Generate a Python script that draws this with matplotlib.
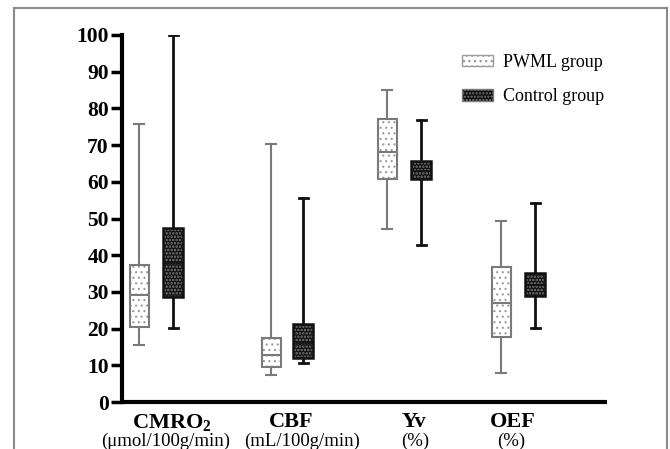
import matplotlib
matplotlib.use("Agg")
import matplotlib.pyplot as plt
from matplotlib.patches import Patch, PathPatch
from matplotlib.lines import Line2D

plt.rcParams['font.family'] = ['Liberation Serif', 'DejaVu Serif']
plt.rcParams['mathtext.fontset'] = 'custom'
plt.rcParams['mathtext.bf'] = 'Liberation Serif:bold'
plt.rcParams['mathtext.rm'] = 'Liberation Serif'
plt.rcParams['hatch.linewidth'] = 0.8

# ---- data ----
measures = [r'$\mathbf{CMRO_2}$', 'CBF', 'Yv', 'OEF']
units = ['(μmol/100g/min)', '(mL/100g/min)', '(%)', '(%)']
groups = ['PWML group', 'Control group']

# whislo, q1, median, q3, whishi
pwml_low = [15.5, 7.4, 47.1, 8.0]
pwml_q1 = [20.5, 9.6, 60.8, 17.8]
pwml_med = [29.2, 12.8, 68.2, 27.1]
pwml_q3 = [37.3, 17.4, 77.1, 36.9]
pwml_high = [75.8, 70.3, 85.0, 49.4]

ctrl_low = [20.1, 10.5, 42.7, 20.1]
ctrl_q1 = [28.5, 11.9, 60.8, 28.9]
ctrl_med = [38.0, 16.0, 63.0, 32.0]
ctrl_q3 = [47.3, 21.2, 65.8, 35.2]
ctrl_high = [100.0, 55.7, 76.8, 54.1]

yticks = [0, 10, 20, 30, 40, 50, 60, 70, 80, 90, 100]

# ---- layout ----
pwml_pos = [139, 271, 387, 501]
ctrl_pos = [173, 303, 421, 535]
name_pos = [172, 291, 414, 513]
unit_pos = [166, 302, 415, 511]

fig = plt.figure(figsize=(6.7, 4.49), dpi=100)
ax = fig.add_axes([122 / 670, 1 - 402 / 449, (607 - 122) / 670, (402 - 35) / 449])


def stats(lo, q1, med, q3, hi):
    return [dict(whislo=a, q1=b, med=c, q3=d, whishi=e, fliers=[])
            for a, b, c, d, e in zip(lo, q1, med, q3, hi)]


gray = '#7a7a7a'
pw_hatch = '...'
ct_hatch = '.....'
ct_face = '#101010'
ct_dot = '#7a7a7a'

bp1 = ax.bxp(stats(pwml_low, pwml_q1, pwml_med, pwml_q3, pwml_high),
             positions=pwml_pos, widths=19, patch_artist=True, showfliers=False,
             capwidths=10,
             boxprops=dict(facecolor='white', edgecolor='#9a9a9a', linewidth=0, hatch=pw_hatch),
             whiskerprops=dict(color=gray, linewidth=1.5),
             capprops=dict(color=gray, linewidth=1.5),
             medianprops=dict(color=gray, linewidth=1.5))
for b in bp1['boxes']:
    ax.add_patch(PathPatch(b.get_path(), fill=False, edgecolor=gray, linewidth=1.5, zorder=b.get_zorder() + 0.1))

with plt.rc_context({'hatch.linewidth': 1.2}):
    bp2 = ax.bxp(stats(ctrl_low, ctrl_q1, ctrl_med, ctrl_q3, ctrl_high),
                 positions=ctrl_pos, widths=20, patch_artist=True, showfliers=False,
                 capwidths=9,
                 boxprops=dict(facecolor=ct_face, edgecolor=ct_dot, linewidth=0, hatch=ct_hatch),
                 whiskerprops=dict(color='#111111', linewidth=2),
                 capprops=dict(color='#111111', linewidth=2),
                 medianprops=dict(color='#111111', linewidth=1.2))
for b in bp2['boxes']:
    ax.add_patch(PathPatch(b.get_path(), fill=False, edgecolor='#111111', linewidth=1.8, zorder=b.get_zorder() + 0.1))

ax.set_xlim(122, 607)
ax.set_ylim(0, 100)
ax.set_yticks(yticks)
ax.set_yticklabels([str(v) for v in yticks], fontsize=15.5, fontweight='bold')
ax.tick_params(axis='y', length=8, width=2.5, pad=1.5, direction='out')
ax.set_xticks([])
for s in ['top', 'right']:
    ax.spines[s].set_visible(False)
for s in ['left', 'bottom']:
    ax.spines[s].set_linewidth(3)
ax.spines['left'].set_capstyle('projecting')
ax.spines['bottom'].set_capstyle('butt')

for xn, xu, m, u in zip(name_pos, unit_pos, measures, units):
    ax.text(xn, -2.8, m, ha='center', va='top', fontsize=16, fontweight='bold', clip_on=False)
    ax.text(xu, -8.4, u, ha='center', va='top', fontsize=13.5, clip_on=False)

handles = [Patch(facecolor='white', edgecolor='#9a9a9a', hatch=pw_hatch, linewidth=1.0),
           Patch(facecolor=ct_face, edgecolor=ct_dot, hatch=ct_hatch, linewidth=1.0)]
with plt.rc_context({'hatch.linewidth': 1.0}):
    fig.legend(handles, groups, loc='upper left', bbox_to_anchor=(462 / 670, 1 - 54 / 449),
               frameon=False, fontsize=13, handlelength=1.7, handleheight=0.6,
               handletextpad=0.55, labelspacing=0.95, borderpad=0, borderaxespad=0)

# figure frame (left, top, right)
fc = '#8a8a8a'
fig.add_artist(Line2D([14 / 670, 14 / 670], [0, 1 - 8 / 449], color=fc, lw=1.5))
fig.add_artist(Line2D([14 / 670, 667 / 670], [1 - 8 / 449, 1 - 8 / 449], color=fc, lw=1.5))
fig.add_artist(Line2D([667 / 670, 667 / 670], [0, 1 - 8 / 449], color=fc, lw=1.5))

fig.savefig('out.png', dpi=100)
